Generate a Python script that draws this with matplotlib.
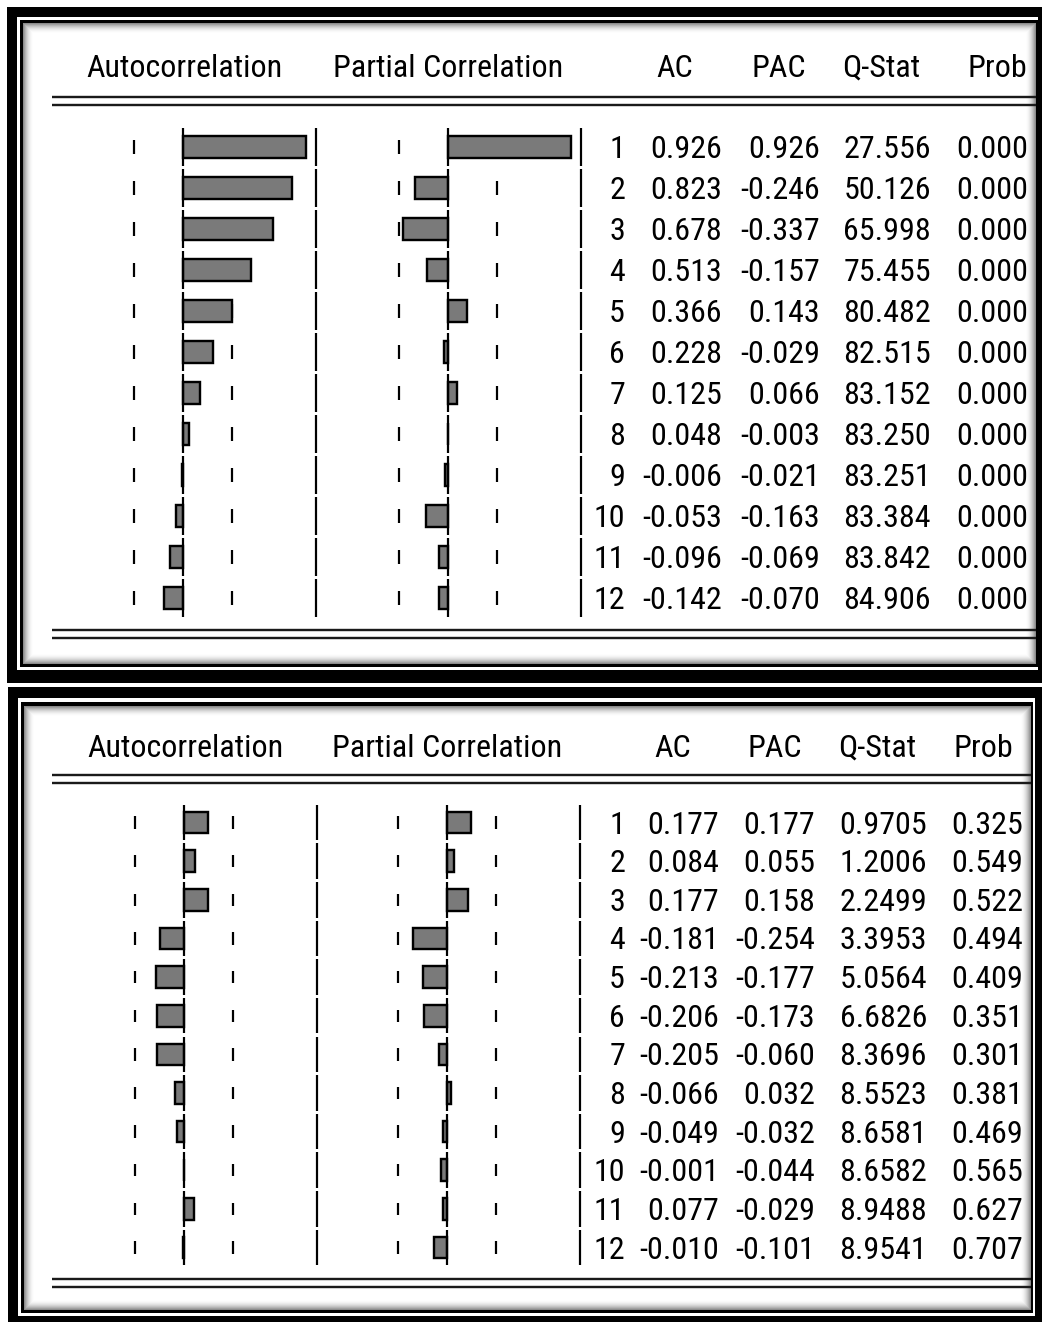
import numpy as np
import matplotlib
matplotlib.use("Agg")
import matplotlib.pyplot as plt
from matplotlib.patches import Rectangle

# ---- correlogram data (lags 1..12) ----
lags = list(range(1, 13))

# upper table
ac_1 = [0.926, 0.823, 0.678, 0.513, 0.366, 0.228, 0.125, 0.048, -0.006, -0.053, -0.096, -0.142]
pac_1 = [0.926, -0.246, -0.337, -0.157, 0.143, -0.029, 0.066, -0.003, -0.021, -0.163, -0.069, -0.070]
qstat_1 = [27.556, 50.126, 65.998, 75.455, 80.482, 82.515, 83.152, 83.250, 83.251, 83.384, 83.842, 84.906]
prob_1 = [0.000] * 12

# lower table
ac_2 = [0.177, 0.084, 0.177, -0.181, -0.213, -0.206, -0.205, -0.066, -0.049, -0.001, 0.077, -0.010]
pac_2 = [0.177, 0.055, 0.158, -0.254, -0.177, -0.173, -0.060, 0.032, -0.032, -0.044, -0.029, -0.101]
qstat_2 = [0.9705, 1.2006, 2.2499, 3.3953, 5.0564, 6.6826, 8.3696, 8.5523, 8.6581, 8.6582, 8.9488, 8.9541]
prob_2 = [0.325, 0.549, 0.522, 0.494, 0.409, 0.351, 0.301, 0.381, 0.469, 0.565, 0.627, 0.707]

headers = ["Autocorrelation", "Partial Correlation", "AC", "PAC", "Q-Stat", "Prob"]
n_obs = 30
conf = 2.0 / np.sqrt(n_obs)

# ---- canvas in pixel units ----
W, H = 1042, 1322
DPI = 100
PT = 72.0 / DPI  # points per pixel

FAMILY = ["Roboto Condensed", "Liberation Sans", "DejaVu Sans"]
FS = 32 * PT

fig = plt.figure(figsize=(W / DPI, H / DPI), dpi=DPI)
fig.patch.set_facecolor("white")
bg = fig.add_axes([0, 0, 1, 1])
bg.set_xlim(0, W)
bg.set_ylim(H, 0)
bg.axis("off")


def rect(x0, y0, x1, y1, color, z=1):
    bg.add_patch(Rectangle((x0, y0), x1 - x0, y1 - y0, facecolor=color,
                           edgecolor="none", zorder=z))


def inset_shadow(x0, y0, x1, y1, width=11, strength=0.5):
    w, h = int(x1 - x0), int(y1 - y0)
    xs = np.arange(w) + 0.5
    ys = np.arange(h) + 0.5
    dx = np.minimum(xs, w - xs)
    dy = np.minimum(ys, h - ys)
    d = np.minimum(dx[None, :], dy[:, None])
    img = np.zeros((h, w, 4))
    img[..., 3] = strength * np.clip(1 - d / width, 0, 1) ** 2
    bg.imshow(img, extent=(x0, x1, y1, y0), interpolation="bilinear",
              aspect="auto", zorder=2)


def window(outer, gap, thin, content):
    rect(*outer, "black")
    rect(*gap, "white")
    rect(*thin, "black")
    rect(*content, "white")
    inset_shadow(*content)


def double_rule(x0, x1, y):
    for yy in (y, y + 8):
        bg.plot([x0, x1], [yy, yy], color="#1a1a1a", lw=2.4 * PT,
                solid_capstyle="butt", zorder=3)


def corr_axes(zero_px, row1_px, step_px, scale_px=133):
    """Axes whose x unit is one correlation and whose y unit is one lag."""
    x0 = zero_px - 1.03 * scale_px
    x1 = zero_px + 1.03 * scale_px
    y0 = row1_px - 0.6 * step_px
    y1 = row1_px + 11.6 * step_px
    ax = fig.add_axes([x0 / W, 1 - y1 / H, (x1 - x0) / W, (y1 - y0) / H])
    ax.set_xlim(-1.03, 1.03)
    ax.set_ylim(12.6, 0.4)
    ax.axis("off")
    return ax


def draw_corr(ax, values):
    lag_arr = np.array(lags, dtype=float)
    ones = np.ones_like(lag_arr)
    lw = 2.2 * PT
    # confidence markers
    for s in (-conf, conf):
        ax.vlines(s * ones, lag_arr - 0.16, lag_arr + 0.16, color="black", lw=lw, zorder=1)
    # bars
    ax.barh(lag_arr, values, height=0.56, left=0, color="#7a7a7a",
            edgecolor="black", linewidth=2.4 * PT, zorder=2)
    # zero axis and column divider, broken between lags
    ax.vlines(0 * ones, lag_arr - 0.46, lag_arr + 0.46, color="black", lw=lw, zorder=3)
    ax.vlines(ones, lag_arr - 0.46, lag_arr + 0.46, color="black", lw=lw, zorder=3)


def table(ac, pac, q, prob, q_dec, row1_px, step_px, header_y, head_x, col_right):
    tk = dict(family=FAMILY, fontsize=FS, color="black", zorder=4)
    for name, x in zip(headers, head_x):
        bg.text(x, header_y, name, ha="center", va="baseline", **tk)
    for i, lag in enumerate(lags):
        yb = row1_px + i * step_px + 11
        cells = [f"{lag}", f"{ac[i]:.3f}", f"{pac[i]:.3f}",
                 f"{q[i]:.{q_dec}f}", f"{prob[i]:.3f}"]
        for txt, x in zip(cells, col_right):
            bg.text(x, yb, txt, ha="right", va="baseline", **tk)


# ---- upper window ----
window(outer=(7, 7, 1050, 683), gap=(17, 17, 1038, 670),
       thin=(20, 20, 1038, 667), content=(23, 23, 1036, 664))
double_rule(52, 1036, 97)
double_rule(52, 1036, 630)
row1, step = 147, 41
draw_corr(corr_axes(183, row1, step), ac_1)
draw_corr(corr_axes(448, row1, step), pac_1)
table(ac_1, pac_1, qstat_1, prob_1, 3, row1, step, 77,
      head_x=[184, 448, 675, 779, 881, 997],
      col_right=[625, 722, 820, 931, 1028])

# ---- lower window ----
window(outer=(8, 687, 1050, 1330), gap=(18, 698, 1035, 1316),
       thin=(21, 702, 1033, 1313), content=(24, 706, 1031, 1310))
double_rule(52, 1031, 775)
double_rule(52, 1031, 1279)
row1, step = 822.5, 38.64
draw_corr(corr_axes(184, row1, step), ac_2)
draw_corr(corr_axes(447, row1, step), pac_2)
table(ac_2, pac_2, qstat_2, prob_2, 4, row1, step, 757,
      head_x=[185, 447, 673, 775, 877, 983],
      col_right=[625, 719, 815, 927, 1023])

fig.savefig("out.png", dpi=DPI, facecolor="white")
